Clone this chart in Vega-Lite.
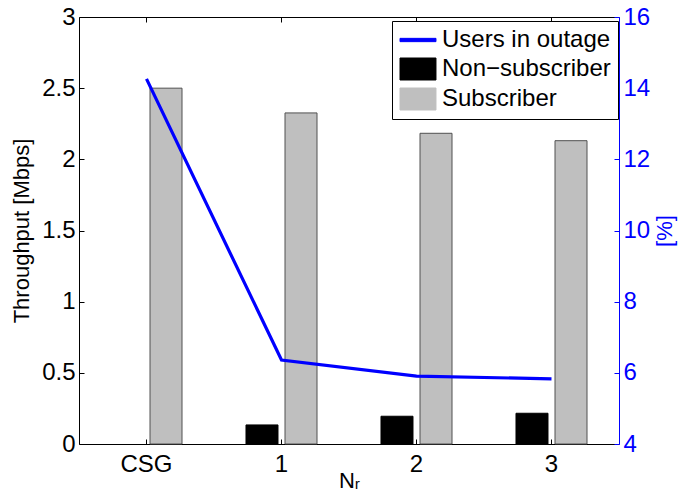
{
  "$schema": "https://vega.github.io/schema/vega-lite/v6.json",
  "width": 540,
  "height": 427,
  "autosize": {"type": "none"},
  "padding": {"left": 79, "top": 17, "right": 72, "bottom": 58},
  "background": "white",
  "config": {
    "font": "Liberation Sans",
    "view": {"stroke": null},
    "axis": {
      "labelFontSize": 24,
      "titleFontSize": 22,
      "labelFont": "Liberation Sans",
      "titleFont": "Liberation Sans",
      "titleFontWeight": "normal",
      "grid": false,
      "domainColor": "black",
      "tickColor": "black",
      "labelColor": "black",
      "titleColor": "black",
      "domainWidth": 1,
      "tickWidth": 1,
      "tickSize": -5
    }
  },
  "datasets": {
    "bars": [
      {"cat": "CSG", "series": "Non−subscriber", "throughput": 0},
      {"cat": "CSG", "series": "Subscriber", "throughput": 2.5},
      {"cat": "1", "series": "Non−subscriber", "throughput": 0.134},
      {"cat": "1", "series": "Subscriber", "throughput": 2.326},
      {"cat": "2", "series": "Non−subscriber", "throughput": 0.195},
      {"cat": "2", "series": "Subscriber", "throughput": 2.183},
      {"cat": "3", "series": "Non−subscriber", "throughput": 0.216},
      {"cat": "3", "series": "Subscriber", "throughput": 2.131}
    ],
    "line": [
      {"cat": "CSG", "series": "Users in outage", "outage": 14.26},
      {"cat": "1", "series": "Users in outage", "outage": 6.36},
      {"cat": "2", "series": "Users in outage", "outage": 5.91},
      {"cat": "3", "series": "Users in outage", "outage": 5.83}
    ]
  },
  "layer": [
    {
      "data": {"name": "bars"},
      "mark": {
        "type": "bar",
        "stroke": {"expr": "datum.series === 'Subscriber' ? '#505050' : '#000000'"},
        "strokeWidth": {"expr": "datum.throughput > 0 ? 1 : 0"}
      },
      "encoding": {
        "x": {
          "field": "cat", "type": "nominal",
          "scale": {"domain": ["CSG", "1", "2", "3"], "paddingInner": 0, "paddingOuter": 0},
          "axis": {"orient": "bottom", "title": "Nᵣ", "labelAngle": 0, "bandPosition": 0.5, "labelPadding": 13, "titlePadding": -6}
        },
        "xOffset": {
          "field": "series", "type": "nominal",
          "scale": {"domain": ["Non−subscriber", "Subscriber"], "paddingInner": 0.18, "paddingOuter": 0.82}
        },
        "y": {
          "field": "throughput", "type": "quantitative",
          "scale": {"domain": [0, 3], "nice": false},
          "axis": {"values": [0, 0.5, 1, 1.5, 2, 2.5, 3], "format": ".1~f", "title": "Throughput [Mbps]", "labelPadding": 9, "titlePadding": 8}
        },
        "color": {
          "field": "series", "type": "nominal",
          "scale": {"domain": ["Users in outage", "Non−subscriber", "Subscriber"], "range": ["#0000ff", "#000000", "#bfbfbf"]},
          "legend": {
            "orient": "none", "legendX": 313, "legendY": 4,
            "title": null, "padding": 7,
            "strokeColor": "black", "fillColor": "white",
            "labelFontSize": 24, "labelFont": "Liberation Sans", "labelColor": "black", "labelLimit": 400,
            "labelOffset": 19, "rowPadding": 4,
            "symbolSize": 484,
            "symbolType": {"expr": "datum.value === 'Users in outage' ? 'M-1,-0.15H2.27V0.15H-1Z' : 'M-1,-1H2.27V1H-1Z'"},
            "symbolStrokeWidth": 1,
            "encode": {
              "symbols": {
                "stroke": {"value": {"expr": "datum.value === 'Users in outage' ? 'transparent' : (datum.value === 'Subscriber' ? '#505050' : '#000000')"}},
                "opacity": {"value": 1}
              }
            }
          }
        }
      }
    },
    {
      "data": {"name": "line"},
      "mark": {"type": "line", "strokeWidth": 3.2},
      "encoding": {
        "x": {
          "field": "cat", "type": "nominal",
          "axis": {"orient": "top", "labels": false, "title": null, "bandPosition": 0.5}
        },
        "y": {
          "field": "outage", "type": "quantitative",
          "scale": {"domain": [4, 16], "nice": false},
          "axis": {
            "orient": "right", "values": [4, 6, 8, 10, 12, 14, 16], "title": "[%]",
            "titleAngle": 270, "titleBaseline": "top", "labelPadding": 9, "titlePadding": 5,
            "domainColor": "#0000ff", "tickColor": "#0000ff", "labelColor": "#0000ff", "titleColor": "#0000ff"
          }
        },
        "color": {"field": "series", "type": "nominal"}
      }
    }
  ],
  "resolve": {"scale": {"y": "independent"}, "axis": {"x": "independent"}}
}
